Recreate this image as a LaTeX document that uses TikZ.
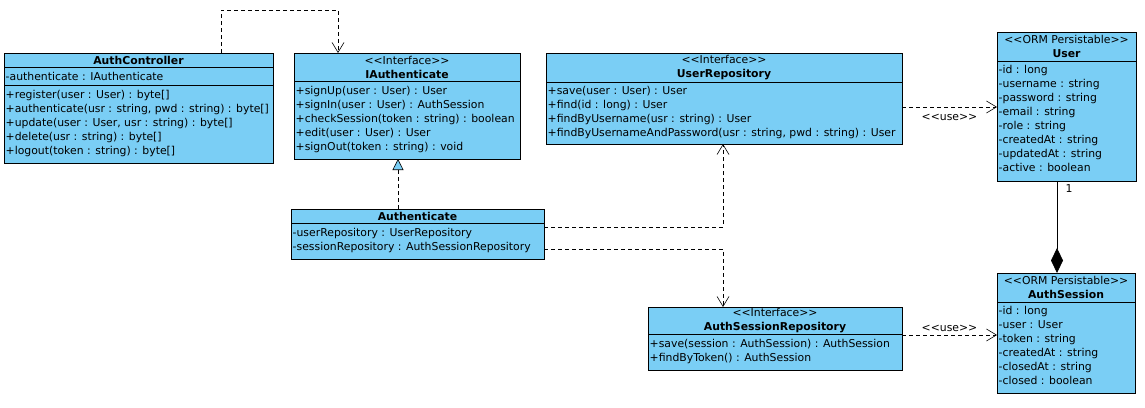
\documentclass[tikz,border=0pt]{standalone}
\usepackage{fontspec}
\setmainfont{DejaVu Sans}
\usetikzlibrary{arrows.meta,calc}

\definecolor{classblue}{RGB}{122,206,245}

\def\stereo#1{<{}<#1>{}>}

\begin{document}
\begin{tikzpicture}[
  x=1pt, y=-1pt,
  font=\fontsize{10.85}{14}\selectfont,
  compartment/.style={
    draw=black,
    fill=classblue,
    line width=0.8pt,
    anchor=north west,
    inner sep=0pt,
    outer sep=0pt
  },
  header/.style={
    compartment,
    align=center
  },
  member/.style={
    anchor=west,
    inner sep=0pt,
    yshift=-1.5pt,
    text height=8pt,
    text depth=2.5pt
  },
  dependency/.style={
    line width=0.6pt,
    dash pattern=on 4pt off 3pt,
    -{Straight Barb[length=10pt,width=12pt]}
  },
  realization/.style={
    line width=0.6pt,
    dash pattern=on 4pt off 3pt,
    -{Triangle[length=11pt,width=11pt,fill=classblue]}
  },
  composition/.style={
    line width=0.8pt,
    -{Diamond[length=25pt,width=12pt,fill=black]}
  }
]
\useasboundingbox (0,0) rectangle (1145,407);

\node[header, minimum width=269pt, minimum height=14pt] (ac-head) at (4,53) {\textbf{AuthController}};
\node[compartment, minimum width=269pt, minimum height=18pt] (ac-attr) at (4,67) {};
\node[compartment, minimum width=269pt, minimum height=78pt] (ac-ops) at (4,85) {};
\node[member] (ac-attr-1) at (5.5,76) {-authenticate : IAuthenticate};
\foreach \m [count=\i] in {
  {+register(user : User) : byte[]},
  {+authenticate(usr : string, pwd : string) : byte[]},
  {+update(user : User, usr : string) : byte[]},
  {+delete(usr : string) : byte[]},
  {+logout(token : string) : byte[]}} {
  \pgfmathsetmacro{\y}{80 + \i*14}
  \node[member] (ac-op-\i) at (5.5,\y) {\m};
}

\node[header, minimum width=226pt, minimum height=28pt] (ia-head) at (294,53) {\stereo{Interface}\\\textbf{IAuthenticate}};
\node[compartment, minimum width=226pt, minimum height=78pt] (ia-ops) at (294,81) {};
\foreach \m [count=\i] in {
  {+signUp(user : User) : User},
  {+signIn(user : User) : AuthSession},
  {+checkSession(token : string) : boolean},
  {+edit(user : User) : User},
  {+signOut(token : string) : void}} {
  \pgfmathsetmacro{\y}{76 + \i*14}
  \node[member] (ia-op-\i) at (295.5,\y) {\m};
}

\node[header, minimum width=356pt, minimum height=29pt] (ur-head) at (546,53) {\stereo{Interface}\\\textbf{UserRepository}};
\node[compartment, minimum width=356pt, minimum height=62pt] (ur-ops) at (546,82) {};
\foreach \m [count=\i] in {
  {+save(user : User) : User},
  {+find(id : long) : User},
  {+findByUsername(usr : string) : User},
  {+findByUsernameAndPassword(usr : string, pwd : string) : User}} {
  \pgfmathsetmacro{\y}{76 + \i*14}
  \node[member] (ur-op-\i) at (547.5,\y) {\m};
}

\node[header, minimum width=139pt, minimum height=29pt] (user-head) at (997,32) {\stereo{ORM Persistable}\\\textbf{User}};
\node[compartment, minimum width=139pt, minimum height=120pt] (user-attr) at (997,61) {};
\foreach \m [count=\i] in {
  {-id : long},
  {-username : string},
  {-password : string},
  {-email : string},
  {-role : string},
  {-createdAt : string},
  {-updatedAt : string},
  {-active : boolean}} {
  \pgfmathsetmacro{\y}{55 + \i*14}
  \node[member] (user-attr-\i) at (998.5,\y) {\m};
}

\node[header, minimum width=253pt, minimum height=14pt] (au-head) at (291,209) {\textbf{Authenticate}};
\node[compartment, minimum width=253pt, minimum height=36pt] (au-attr) at (291,223) {};
\foreach \m [count=\i] in {
  {-userRepository : UserRepository},
  {-sessionRepository : AuthSessionRepository}} {
  \pgfmathsetmacro{\y}{218 + \i*14}
  \node[member] (au-attr-\i) at (292.5,\y) {\m};
}

\node[header, minimum width=254pt, minimum height=27pt] (asr-head) at (648,307) {\stereo{Interface}\\\textbf{AuthSessionRepository}};
\node[compartment, minimum width=254pt, minimum height=36pt] (asr-ops) at (648,334) {};
\foreach \m [count=\i] in {
  {+save(session : AuthSession) : AuthSession},
  {+findByToken() : AuthSession}} {
  \pgfmathsetmacro{\y}{329 + \i*14}
  \node[member] (asr-op-\i) at (649.5,\y) {\m};
}

\node[header, minimum width=138pt, minimum height=29pt] (as-head) at (997,273) {\stereo{ORM Persistable}\\\textbf{AuthSession}};
\node[compartment, minimum width=138pt, minimum height=91pt] (as-attr) at (997,302) {};
\foreach \m [count=\i] in {
  {-id : long},
  {-user : User},
  {-token : string},
  {-createdAt : string},
  {-closedAt : string},
  {-closed : boolean}} {
  \pgfmathsetmacro{\y}{296 + \i*14}
  \node[member] (as-attr-\i) at (998.5,\y) {\m};
}

\draw[dependency] ([xshift=-52pt]ac-head.north east) -- ++(0,-43) -| ([xshift=44pt]ia-head.north west);
\draw[realization] ([xshift=107pt]au-head.north west) -- ([xshift=104pt]ia-ops.south west);
\draw[dependency] ([yshift=-4pt]au-attr.north east) -| ([xshift=177pt]ur-ops.south west);
\draw[dependency] ([yshift=10pt]au-attr.south east) -| ([xshift=75pt]asr-head.north west);
\draw[dependency] ([yshift=-25pt]ur-ops.north east) -- ([yshift=-46pt]user-attr.north west)
  node[midway, below=4pt] {\stereo{use}};
\draw[dependency] ([yshift=-1pt]asr-ops.north east) -- ([yshift=-33pt]as-attr.north west)
  node[midway, above] {\stereo{use}};
\draw[composition] ([xshift=60pt]user-attr.south west) -- ([xshift=60pt]as-head.north west)
  node[at start, anchor=north west, xshift=5pt] {1};
\end{tikzpicture}
\end{document}
